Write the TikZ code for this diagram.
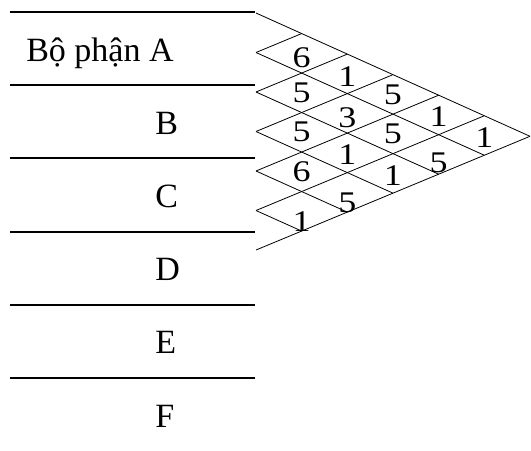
\documentclass[tikz,border=0pt]{standalone}
\usepackage{fontspec}
\setmainfont{Liberation Serif}
\usepackage{tikz}
\usetikzlibrary{calc}

\tikzset{
  rowline/.style={line width=1.6pt},
  gridline/.style={line width=0.6pt},
  rowlab/.style={font=\fontsize{25.5}{30}\selectfont, anchor=base west, inner sep=0pt},
  cellval/.style={font=\fontsize{22.5}{26}\selectfont, xscale=1.2, inner sep=0pt},
}

\begin{document}
\begin{tikzpicture}[x=0.75pt, y=-0.75pt]
\useasboundingbox (0,0) rectangle (531,450);
\def\xo{256} \def\bo{13} \def\dd{39.5} \def\sa{0.45} \def\sb{0.415}
\foreach \r in {0,...,5} {
  \coordinate (rl\r) at (10,12+\r*73.2);
  \coordinate (rr\r) at (255,12+\r*73.2);
  \draw[rowline] (rl\r) -- (rr\r);
}
\node[rowlab] (labA) at (26,61) {Bộ phận A};
\foreach \lab [count=\i] in {B,C,D,E,F}
  \node[rowlab] (lab\lab) at (155,61+\i*73.2) {\lab};
\foreach \k in {0,...,6}
  \coordinate (L\k) at (\xo,\bo+\k*\dd);
\foreach \k in {0,...,5} {
  \pgfmathsetmacro{\u}{(6-\k)*\dd/(\sa+\sb)}
  \coordinate (E\k) at (\xo+\u,\bo+\k*\dd+\sa*\u);
  \draw[gridline] (L\k) -- (E\k);
}
\foreach \m in {1,...,6} {
  \pgfmathsetmacro{\u}{\m*\dd/(\sa+\sb)}
  \coordinate (T\m) at (\xo+\u,\bo+\sa*\u);
  \draw[gridline] (L\m) -- (T\m);
}
\foreach \i/\j/\val/\dy in {1/2/6/4, 2/3/5/0, 3/4/5/0, 4/5/6/0, 5/6/1/10,
    1/3/1/3, 2/4/3/4, 3/5/1/2, 4/6/5/10,
    1/4/5/0, 2/5/5/0, 3/6/1/2,
    1/5/1/2, 2/6/5/8,
    1/6/1/2} {
  \pgfmathsetmacro{\cx}{\xo+(\j-\i)*\dd/(\sa+\sb)}
  \pgfmathsetmacro{\cy}{\bo+(\i-0.5)*\dd+\sa*(\j-\i)*\dd/(\sa+\sb)+\dy}
  \node[cellval] (v\i\j) at (\cx,\cy) {\val};
}
\end{tikzpicture}
\end{document}
